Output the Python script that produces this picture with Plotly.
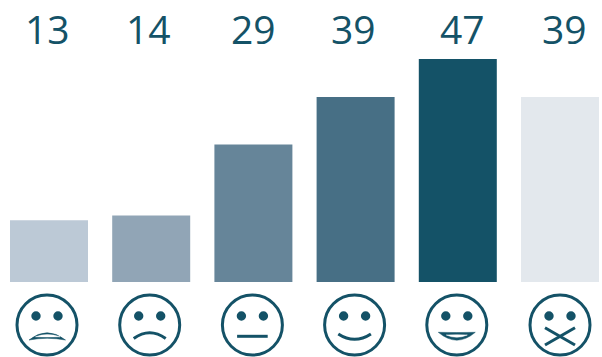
import plotly.graph_objects as go

categories = ["Very unhappy", "Unhappy", "Neutral", "Happy", "Very happy", "No answer"]
values = [13, 14, 29, 39, 47, 39]
bar_colors = ["#bcc9d6", "#91a5b6", "#668599", "#476f85", "#145267", "#e3e8ed"]
INK = "#145267"

face_cx_offset = [-2, -1.5, -1, -1, -1, 0]
label_cx_offset = [-1.5, -2.5, 0.5, -2, 5, 4]
FACE_DY = -43
LW = 3
idx = list(range(len(categories)))

fig = go.Figure(go.Bar(x=idx, y=values, marker=dict(color=bar_colors, line_width=0), width=78 / 102.2,
                       hovertext=categories, hoverinfo="text+y"))


def pix(i, **kw):
    return dict(xref="x", yref="paper", xsizemode="pixel", ysizemode="pixel", xanchor=i, yanchor=0, **kw)


def stroke(i, d):
    return pix(i, type="path", path=d, line=dict(color=INK, width=LW), fillcolor="rgba(0,0,0,0)")


def filled(i, d, color):
    return pix(i, type="path", path=d, line=dict(color=color, width=0.5), fillcolor=color)


def path(i, fmt):
    ox, oy = face_cx_offset[i], FACE_DY
    return " ".join(cmd + " ".join(f"{ox + a},{oy + b}" for a, b in pts) for cmd, pts in fmt)


shapes = []
for i in idx:
    ox = face_cx_offset[i]
    shapes.append(pix(i, type="circle", x0=ox - 30, x1=ox + 30, y0=FACE_DY - 30, y1=FACE_DY + 30,
                      line=dict(color=INK, width=LW), fillcolor="white"))
    for ex in (-11, 11):
        shapes.append(pix(i, type="circle", x0=ox + ex - 4.7, x1=ox + ex + 4.7,
                          y0=FACE_DY + 9 - 4.7, y1=FACE_DY + 9 + 4.7,
                          line_width=0, fillcolor=INK))

shapes.append(filled(0, path(0, [("M", [(-18, -15)]), ("Q", [(0, -0.4), (18.5, -15)]), ("Q", [(0, -11.6), (-18, -15)])]) + " Z", INK))
shapes.append(filled(0, path(0, [("M", [(-11.5, -11.8)]), ("Q", [(0, -7.4), (13, -11.8)]), ("Q", [(0, -12.2), (-11.5, -11.8)])]) + " Z", "#ffffff"))
shapes.append(stroke(1, path(1, [("M", [(-16, -13.5)]), ("Q", [(0, -2), (16, -13.5)])])))
shapes.append(stroke(2, path(2, [("M", [(-15.3, -11.3)]), ("L", [(15.3, -11.3)])])))
shapes.append(stroke(3, path(3, [("M", [(-16.3, -9)]), ("Q", [(0, -19.7), (16.3, -9)])])))
shapes.append(filled(4, path(4, [("M", [(-18.5, -7.3)]), ("Q", [(0, -23), (18.5, -7.3)]), ("Q", [(0, -7.8), (-18.5, -7.3)])]) + " Z", INK))
shapes.append(filled(4, path(4, [("M", [(-10.5, -10)]), ("Q", [(0, -14.5), (10.5, -10)]), ("Q", [(0, -9.5), (-10.5, -10)])]) + " Z", "#ffffff"))
shapes.append(stroke(5, path(5, [("M", [(-15, -2.7)]), ("L", [(15, -20)])])))
shapes.append(stroke(5, path(5, [("M", [(15, -2.7)]), ("L", [(-15, -20)])])))

fig.update_layout(
    width=602, height=357, margin=dict(l=0, r=0, t=0, b=75), autosize=False,
    paper_bgcolor="white", plot_bgcolor="white", showlegend=False,
    xaxis=dict(range=[-49 / 102.2, 553 / 102.2], visible=False),
    yaxis=dict(range=[0, 282 / 4.745], visible=False),
    shapes=shapes,
)
for i, v in zip(idx, values):
    fig.add_annotation(x=i, y=1 - 29 / 282, xref="x", yref="paper", yanchor="middle", showarrow=False,
                       xshift=label_cx_offset[i],
                       text=str(v), font=dict(family="Open Sans", size=39, color=INK))

fig.write_html("out.html", config=dict(displayModeBar=False),
               post_script="document.body.style.margin='0';document.documentElement.style.overflow='hidden';")
